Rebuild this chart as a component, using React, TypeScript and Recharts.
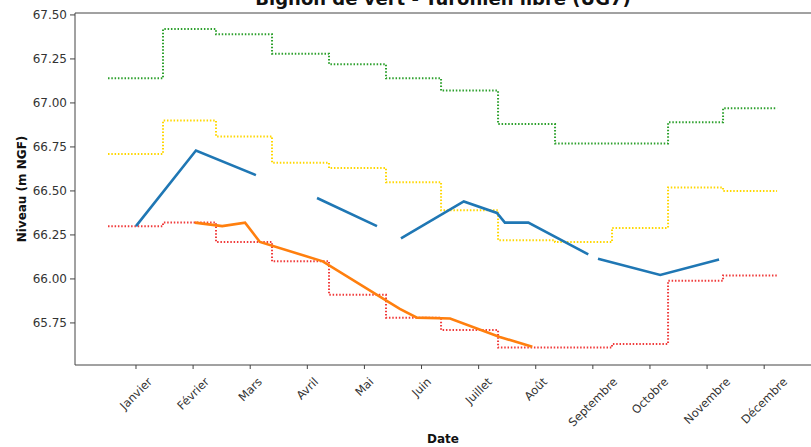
import React from 'react';
import { LineChart, Line, XAxis, YAxis, ReferenceLine, Label } from 'recharts';

const months = [
  'Janvier', 'Février', 'Mars', 'Avril', 'Mai', 'Juin',
  'Juillet', 'Août', 'Septembre', 'Octobre', 'Novembre', 'Décembre'
];
const monthTicks = [0, 1, 2, 3, 4, 5, 6, 7, 8, 9, 10, 11];
const yTicks = [65.75, 66, 66.25, 66.5, 66.75, 67, 67.25, 67.5];

// where each monthly level starts (month units, Janvier = 0); last entry closes December
const stepEdges = [-0.49, 0.473, 1.401, 2.382, 3.38, 4.378, 5.342, 6.34, 7.338, 8.336, 9.317, 10.28, 11.226];

const greenLevels = [67.14, 67.42, 67.39, 67.28, 67.22, 67.14, 67.07, 66.88, 66.77, 66.77, 66.89, 66.97];
const yellowLevels = [66.71, 66.9, 66.81, 66.66, 66.63, 66.55, 66.39, 66.22, 66.21, 66.29, 66.52, 66.5];
const redLevels = [66.3, 66.32, 66.21, 66.1, 65.91, 65.78, 65.71, 65.61, 65.61, 65.63, 65.99, 66.02];

const blueX = [0.0, 1.05, 2.1, 2.6, 3.17, 4.22, 4.4, 4.64, 5.74, 6.32, 6.46, 6.87, 7.92, 8.0, 8.09, 9.18, 10.21];
const blueY = [66.3, 66.73, 66.59, null, 66.46, 66.3, null, 66.23, 66.44, 66.375, 66.32, 66.32, 66.14, null, 66.115, 66.023, 66.11];

const orangeX = [1.03, 1.51, 1.91, 2.17, 3.27, 4.27, 4.62, 4.92, 5.5, 6.37, 6.94];
const orangeY = [66.32, 66.3, 66.32, 66.21, 66.1, 65.9, 65.83, 65.78, 65.775, 65.67, 65.615];

const steps = (levels: number[]) =>
  stepEdges.map((x, i) => ({ x, y: levels[Math.min(i, levels.length - 1)] }));
const pairs = (xs: number[], ys: (number | null)[]) => xs.map((x, i) => ({ x, y: ys[i] }));

const FONT = "'DejaVu Sans', sans-serif";
const AXIS = '#444';

let ctx: CanvasRenderingContext2D | null = null;
function textWidth(s: string, font: string) {
  if (!ctx) ctx = document.createElement('canvas').getContext('2d');
  if (!ctx) return s.length * 6.5;
  ctx.font = font;
  return ctx.measureText(s).width;
}

function MonthTick(props: any) {
  const { x, payload } = props;
  const label = months[payload.value] ?? '';
  const size = 11.5;
  const w = textWidth(label, `${size}px 'DejaVu Sans'`);
  const half = (w + size * 1.15) / (2 * Math.SQRT2);
  const cy = 375 + half;
  return (
    <text
      x={x}
      y={cy}
      textAnchor="middle"
      dominantBaseline="central"
      transform={`rotate(-45, ${x}, ${cy})`}
      fontSize={size}
      fontFamily={FONT}
      fill="#333"
    >
      {label}
    </text>
  );
}

export default function App() {
  const dotted = { strokeWidth: 2, strokeDasharray: '1.5 1.8', dot: false, activeDot: false, isAnimationActive: false };
  return (
    <div style={{ position: 'absolute', left: 0, top: 0, width: 811, height: 447, background: '#fff', overflow: 'hidden' }}>
      <div
        style={{
          position: 'absolute', left: 75, width: 736, top: -10, textAlign: 'center',
          fontFamily: FONT, fontWeight: 'bold', fontSize: 18, lineHeight: '18px', color: '#111'
        }}
      >
        Bignon de vert - Turonien libre (UG7)
      </div>
      <LineChart width={811} height={447} margin={{ top: 13, right: 0, bottom: 0, left: 0 }}>
        <XAxis
          type="number"
          dataKey="x"
          domain={[-1.068, 11.82]}
          ticks={monthTicks}
          interval={0}
          allowDataOverflow
          height={82}
          tickSize={4}
          stroke={AXIS}
          tick={<MonthTick />}
        >
          <Label
            content={() => (
              <text x={443} y={443} textAnchor="middle" fontFamily={FONT} fontWeight="bold" fontSize={12} fill="#111">
                Date
              </text>
            )}
          />
        </XAxis>
        <YAxis
          type="number"
          domain={[65.511, 67.511]}
          ticks={yTicks}
          allowDataOverflow
          width={75}
          tickSize={5}
          tickMargin={3}
          stroke={AXIS}
          tick={{ fill: '#333', fontSize: 12, fontFamily: FONT }}
          tickFormatter={(v: number) => v.toFixed(2)}
        >
          <Label
            content={() => (
              <text
                x={22}
                y={189}
                textAnchor="middle"
                dominantBaseline="central"
                transform="rotate(-90, 22, 189)"
                fontFamily={FONT}
                fontWeight="bold"
                fontSize={12}
                fill="#111"
              >
                Niveau (m NGF)
              </text>
            )}
          />
        </YAxis>
        <ReferenceLine y={67.511} stroke={AXIS} strokeWidth={1} ifOverflow="visible" />
        <Line data={steps(greenLevels)} dataKey="y" type="stepAfter" stroke="#2ca02c" {...dotted} />
        <Line data={steps(yellowLevels)} dataKey="y" type="stepAfter" stroke="#ffd700" {...dotted} />
        <Line data={steps(redLevels)} dataKey="y" type="stepAfter" stroke="#f03a3a" {...dotted} />
        <Line
          data={pairs(blueX, blueY)}
          dataKey="y"
          type="linear"
          stroke="#1f77b4"
          strokeWidth={2.6}
          dot={false}
          activeDot={false}
          connectNulls={false}
          isAnimationActive={false}
        />
        <Line
          data={pairs(orangeX, orangeY)}
          dataKey="y"
          type="linear"
          stroke="#ff7f0e"
          strokeWidth={2.6}
          dot={false}
          activeDot={false}
          isAnimationActive={false}
        />
      </LineChart>
    </div>
  );
}
